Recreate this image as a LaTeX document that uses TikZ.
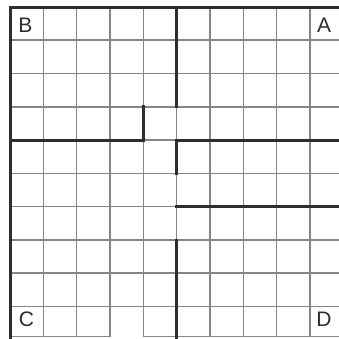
\documentclass[tikz,border=0pt]{standalone}
\usepackage{fontspec}
\setmainfont{Liberation Sans}
\definecolor{gridgray}{HTML}{858585}
\definecolor{wallcol}{HTML}{2E2E2E}
\begin{document}
\begin{tikzpicture}[x=1pt,y=-1pt,
  gridline/.style={draw=gridgray,line width=1.6pt},
  wall/.style={draw=wallcol,line width=3pt,line cap=rect},
  corner/.style={font=\fontsize{21}{21}\selectfont,text=wallcol,inner sep=0pt}]
\useasboundingbox (0,0) rectangle (339,338);
\fill[white] (0,0) rectangle (339,338);
\begin{scope}
\clip (0,0) rectangle (339,338);
% vertical grid lines
\foreach \i in {1,...,9} {
  \draw[gridline] ({10+33.33*\i},7) -- ({10+33.33*\i},336.5);
}
% horizontal grid lines
\foreach \j in {1,...,9} {
  \draw[gridline] (10,{7+33.28*\j}) -- (339,{7+33.28*\j});
}
% bottom line with an opening
\draw[gridline] (10,336.5) -- (109.3,336.5);
\draw[gridline] (142.7,336.5) -- (339,336.5);
% walls
\draw[wall] (10,7) -- (339,7);
\draw[wall] (10,7) -- (10,338);
\draw[wall] (176.6,7) -- (176.6,106.8);
\draw[wall] (10,140.1) -- (143.3,140.1) -- (143.3,106.8);
\draw[wall] (176.6,173.4) -- (176.6,140.1) -- (339,140.1);
\draw[wall] (176.6,206.7) -- (339,206.7);
\draw[wall] (176.6,240) -- (176.6,338);
\end{scope}
\node[corner] (B) at (25.5,25) {B};
\node[corner] (A) at (324,25) {A};
\node[corner] (C) at (26.5,319) {C};
\node[corner] (D) at (324,319) {D};
\end{tikzpicture}
\end{document}
